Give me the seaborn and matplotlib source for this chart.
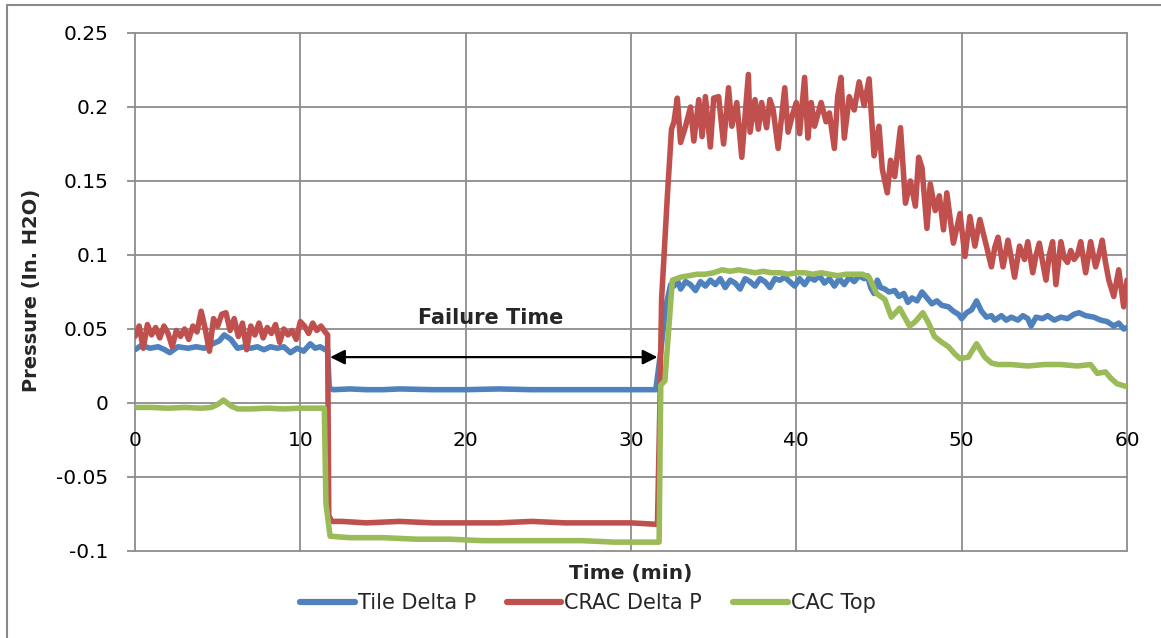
import numpy as np
import pandas as pd
import matplotlib
matplotlib.use("Agg")
import matplotlib.pyplot as plt
import seaborn as sns
from matplotlib.lines import Line2D

# ---------------- data ----------------
series_names = ["Tile Delta P", "CRAC Delta P", "CAC Top"]
colors = ["#4F81BD", "#C0504D", "#9BBB59"]

tile_t = [0, 0.4, 0.9, 1.4, 1.8, 2.1, 2.6, 3.2, 3.7, 4.2, 4.7, 5.1, 5.4, 5.8, 6.2, 6.6,
          7.0, 7.4, 7.8, 8.2, 8.6, 9.0, 9.4, 9.8, 10.2, 10.6, 10.9, 11.2, 11.5, 11.65,
          11.75, 12.0, 13.0, 14.0, 15.0, 16.0, 18.0, 20.0, 22.0, 24.0, 26.0, 28.0, 30.0, 31.5,
          31.8, 32.1, 32.4, 32.6, 32.8, 33.0, 33.3, 33.6, 33.9, 34.2, 34.5, 34.8, 35.1, 35.4,
          35.7, 36.0, 36.3, 36.6, 36.9, 37.2, 37.5, 37.8, 38.1, 38.4, 38.7, 39.0, 39.3, 39.6,
          39.9, 40.2, 40.5, 40.8, 41.1, 41.4, 41.7, 42.0, 42.3, 42.6, 42.9, 43.2, 43.5, 43.8,
          44.1, 44.3, 44.5, 44.7, 44.9, 45.1, 45.35, 45.6, 45.95, 46.2, 46.5, 46.75, 47.0,
          47.3, 47.6, 47.9, 48.2, 48.5, 48.8, 49.2, 49.5, 49.8, 50.0, 50.3, 50.6, 50.9, 51.2,
          51.5, 51.8, 52.0, 52.4, 52.7, 53.0, 53.4, 53.7, 54.0, 54.2, 54.5, 54.9, 55.2, 55.6,
          56.0, 56.4, 56.8, 57.1, 57.5, 58.0, 58.4, 58.8, 59.2, 59.5, 59.8, 60.0]
tile_p = [0.036, 0.039, 0.037, 0.038, 0.036, 0.034, 0.038, 0.037, 0.038, 0.037, 0.040, 0.042,
          0.046, 0.043, 0.037, 0.038, 0.037, 0.038, 0.036, 0.038, 0.037, 0.038, 0.034, 0.037,
          0.035, 0.040, 0.037, 0.038, 0.036, 0.036,
          0.010, 0.009, 0.0095, 0.009, 0.009, 0.0095, 0.009, 0.009, 0.0095, 0.009, 0.009,
          0.009, 0.009, 0.009,
          0.035, 0.065, 0.080, 0.079, 0.083, 0.077, 0.082, 0.080, 0.076, 0.082, 0.079, 0.083,
          0.080, 0.084, 0.078, 0.083, 0.081, 0.077, 0.084, 0.082, 0.079, 0.084, 0.082, 0.078,
          0.084, 0.083, 0.085, 0.082, 0.079, 0.084, 0.080, 0.085, 0.083, 0.086, 0.081, 0.084,
          0.079, 0.084, 0.080, 0.085, 0.082, 0.086, 0.084, 0.086, 0.078, 0.074, 0.083, 0.078,
          0.077, 0.075, 0.076, 0.072, 0.074, 0.068, 0.071, 0.069, 0.075, 0.071, 0.067, 0.069,
          0.066, 0.065, 0.062, 0.060, 0.057, 0.061, 0.063, 0.069, 0.062, 0.058, 0.059, 0.056,
          0.059, 0.056, 0.058, 0.056, 0.059, 0.057, 0.052, 0.058, 0.057, 0.059, 0.056, 0.058,
          0.057, 0.060, 0.061, 0.059, 0.058, 0.056, 0.055, 0.052, 0.054, 0.050, 0.051]

crac_t = [0, 0.25, 0.5, 0.75, 1.0, 1.25, 1.5, 1.75, 2.0, 2.25, 2.5, 2.75, 3.0, 3.25, 3.5,
          3.75, 4.0, 4.25, 4.5, 4.75, 5.0, 5.25, 5.5, 5.75, 6.0, 6.25, 6.5, 6.75, 7.0, 7.25,
          7.5, 7.75, 8.0, 8.25, 8.5, 8.75, 9.0, 9.25, 9.5, 9.75, 10.0, 10.25, 10.5, 10.75,
          11.0, 11.25, 11.5, 11.65, 11.72, 11.9, 12.5, 14, 16, 18, 20, 22, 24, 26, 28, 30,
          31.5, 31.6, 31.75, 31.85, 31.95, 32.2, 32.45, 32.6,
          32.8, 33.0, 33.3, 33.6, 33.8, 34.1, 34.3, 34.5, 34.8, 35.0, 35.3, 35.6, 35.9, 36.1,
          36.4, 36.7, 37.1, 37.2, 37.5, 37.7, 37.9, 38.2, 38.4, 38.6, 38.9, 39.3, 39.5, 39.8,
          40.0, 40.2, 40.5, 40.7, 40.9, 41.1, 41.5, 41.8, 42.0, 42.3, 42.5, 42.7, 42.9, 43.2,
          43.5, 43.8, 44.1, 44.4, 44.7, 45.0, 45.2, 45.5, 45.7, 45.95, 46.3, 46.6, 46.9, 47.2,
          47.4, 47.6, 47.9, 48.1, 48.4, 48.65, 48.9, 49.1, 49.3, 49.5, 49.7, 49.9, 50.2, 50.5,
          50.8, 51.1, 51.3, 51.5, 51.8, 52.0, 52.2, 52.5, 52.8, 53.0, 53.2, 53.5, 53.8, 54.0,
          54.3, 54.5, 54.7, 54.9, 55.1, 55.3, 55.5, 55.7, 56.0, 56.2, 56.4, 56.6, 56.8, 57.0,
          57.2, 57.5, 57.8, 58.1, 58.3, 58.5, 58.7, 58.9, 59.2, 59.5, 59.8, 60.0]
crac_p = [0.045, 0.052, 0.037, 0.053, 0.046, 0.051, 0.044, 0.052, 0.047, 0.038, 0.049, 0.045,
          0.050, 0.043, 0.052, 0.048, 0.062, 0.050, 0.035, 0.057, 0.052, 0.060, 0.061, 0.049,
          0.057, 0.045, 0.054, 0.036, 0.052, 0.046, 0.054, 0.044, 0.051, 0.047, 0.053, 0.041,
          0.050, 0.046, 0.049, 0.043, 0.055, 0.052, 0.047, 0.054, 0.049, 0.052, 0.048, 0.046,
          -0.076, -0.080, -0.080, -0.081, -0.080, -0.081, -0.081, -0.081, -0.080, -0.081,
          -0.081, -0.081, -0.082, -0.082, 0.000, 0.070, 0.090, 0.140, 0.185, 0.190,
          0.206, 0.176, 0.187, 0.200, 0.177, 0.205, 0.180, 0.207, 0.173, 0.206, 0.207, 0.175,
          0.213, 0.187, 0.203, 0.166, 0.222, 0.183, 0.205, 0.185, 0.203, 0.186, 0.205, 0.198,
          0.172, 0.213, 0.183, 0.196, 0.203, 0.182, 0.220, 0.179, 0.203, 0.187, 0.203, 0.190,
          0.196, 0.172, 0.207, 0.220, 0.179, 0.207, 0.198, 0.217, 0.201, 0.219, 0.167, 0.187,
          0.158, 0.142, 0.164, 0.153, 0.186, 0.135, 0.150, 0.133, 0.166, 0.159, 0.118, 0.148,
          0.130, 0.140, 0.117, 0.142, 0.125, 0.108, 0.118, 0.128, 0.099, 0.126, 0.106, 0.124,
          0.115, 0.106, 0.092, 0.105, 0.112, 0.092, 0.110, 0.098, 0.085, 0.106, 0.097, 0.109,
          0.088, 0.100, 0.108, 0.095, 0.083, 0.100, 0.109, 0.080, 0.109, 0.098, 0.095, 0.103,
          0.097, 0.100, 0.109, 0.088, 0.109, 0.092, 0.100, 0.110, 0.095, 0.083, 0.072, 0.090,
          0.065, 0.083]

cac_t = [0, 1, 2, 3, 4, 4.6, 5.0, 5.35, 5.8, 6.2, 7, 8, 9, 10, 11, 11.45, 11.55, 11.8, 13, 15,
         17, 19, 21, 23, 25, 27, 29, 31, 31.7, 31.8, 32.05, 32.5, 33.0, 33.5, 34.0, 34.5, 35.0,
         35.5, 36.0, 36.5, 37.0, 37.5, 38.0, 38.5, 39.0, 39.5, 40.0, 40.5, 41.0, 41.5, 42.0,
         42.5, 43.0, 43.5, 44.0, 44.4, 44.85, 45.35, 45.75, 46.25, 46.85, 47.2, 47.65, 48.0,
         48.35, 48.8, 49.2, 49.6, 49.9, 50.4, 50.9, 51.4, 51.8, 52.2, 53, 54, 55, 56, 57, 57.8,
         58.2, 58.7, 59.0, 59.4, 60.0]
cac_p = [-0.003, -0.003, -0.0035, -0.003, -0.0035, -0.003, -0.001, 0.002, -0.002, -0.004,
         -0.004, -0.0035, -0.004, -0.0035, -0.0035, -0.0035, -0.068, -0.090, -0.091, -0.091,
         -0.092, -0.092, -0.093, -0.093, -0.093, -0.093, -0.094, -0.094, -0.094, 0.012, 0.015,
         0.083, 0.085, 0.086, 0.087, 0.087, 0.088, 0.090, 0.089, 0.090, 0.089, 0.088, 0.089,
         0.088, 0.088, 0.087, 0.088, 0.088, 0.087, 0.088, 0.087, 0.086, 0.087, 0.087, 0.087,
         0.085, 0.074, 0.070, 0.058, 0.064, 0.052, 0.055, 0.061, 0.054, 0.045, 0.041, 0.038,
         0.033, 0.030, 0.031, 0.040, 0.031, 0.027, 0.026, 0.026, 0.025, 0.026, 0.026, 0.025,
         0.026, 0.020, 0.021, 0.017, 0.013, 0.011]

x_ticks = [0, 10, 20, 30, 40, 50, 60]
y_ticks = [-0.1, -0.05, 0, 0.05, 0.1, 0.15, 0.2, 0.25]
y_tick_labels = ["-0.1", "-0.05", "0", "0.05", "0.1", "0.15", "0.2", "0.25"]
x_label = "Time (min)"
y_label = "Pressure (In. H2O)"
annotation_text = "Failure Time"
failure_start, failure_end, arrow_level = 11.8, 31.6, 0.031

# ---------------- figure ----------------
sns.set_theme(style="white")
plt.rcParams["font.family"] = ["DejaVu Sans"]
plt.rcParams["axes.unicode_minus"] = False

W, H = 1161, 638
fig = plt.figure(figsize=(W / 100, H / 100), dpi=100)
fig.patch.set_facecolor("white")
ax = fig.add_axes([135 / W, 1 - 551 / H, 992 / W, 518 / H])

frames = []
for name, t, p in [(series_names[0], tile_t, tile_p),
                   (series_names[1], crac_t, crac_p),
                   (series_names[2], cac_t, cac_p)]:
    frames.append(pd.DataFrame({"t": t, "p": p, "series": name}))
df = pd.concat(frames, ignore_index=True)

sns.lineplot(data=df, x="t", y="p", hue="series", hue_order=series_names,
             palette=colors, sort=False, estimator=None, lw=4.0, ax=ax,
             legend=False)
for ln in ax.get_lines():
    ln.set_solid_joinstyle("round")
    ln.set_solid_capstyle("round")

grid_col = "#8c8c8c"
ax.set_xlim(0, 60)
ax.set_ylim(-0.1, 0.25)
ax.set_xticks(x_ticks)
ax.set_xticklabels([str(v) for v in x_ticks])
ax.set_yticks(y_ticks)
ax.set_yticklabels(y_tick_labels)
ax.grid(True, color=grid_col, lw=1.3)
ax.set_axisbelow(True)
for s in ax.spines.values():
    s.set_visible(False)
ax.spines["bottom"].set_position(("data", 0))
ax.tick_params(axis="x", length=0, pad=20, labelsize=14.5, colors="black")
ax.tick_params(axis="y", length=6, width=1.3, color=grid_col, pad=13,
               labelsize=14.5, left=True, direction="out")
for lab in ax.get_xticklabels() + ax.get_yticklabels():
    lab.set_color("black")
ax.set_xlabel("")
ax.set_ylabel("")
for gl in ax.get_xgridlines() + ax.get_ygridlines():
    gl.set_clip_on(False)

fig.text(631 / W, 1 - 573 / H, x_label, ha="center", va="center",
         fontsize=14.5, fontweight="bold")
fig.text(32 / W, 1 - 290 / H, y_label, ha="center", va="center",
         rotation=90, fontsize=14, fontweight="bold")

# annotation
ax.annotate("", xy=(failure_start, arrow_level), xytext=(failure_end, arrow_level),
            arrowprops=dict(arrowstyle="<|-|>", color="black", lw=1.6,
                            mutation_scale=22, shrinkA=0, shrinkB=0))
ax.text((failure_start + failure_end) / 2 - 0.2, 0.0575, annotation_text,
        ha="center", va="center", fontsize=15, fontweight="bold")

# legend
handles = [Line2D([0], [0], color=c, lw=4.5, solid_capstyle="round") for c in colors]
fig.legend(handles, series_names, loc="center", bbox_to_anchor=(588 / W, 1 - 603 / H),
           ncol=3, frameon=False, fontsize=15, handlelength=2.6,
           handletextpad=0.15, columnspacing=1.5)

# outer chart border (left and top visible)
border_col = "#8a8a8a"
fig.add_artist(Line2D([7 / W, 7 / W], [0, 1 - 5 / H], color=border_col, lw=1.5))
fig.add_artist(Line2D([7 / W, 1], [1 - 5 / H, 1 - 5 / H], color=border_col, lw=1.5))

fig.savefig("out.png", dpi=100, facecolor="white")
